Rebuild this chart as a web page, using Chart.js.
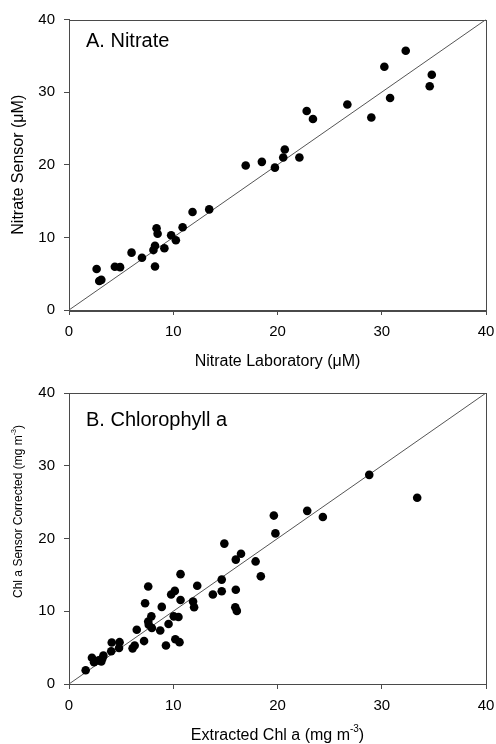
<!DOCTYPE html>
<html>
<head>
<meta charset="utf-8">
<script src="https://cdn.jsdelivr.net/npm/chart.js@4.4.1/dist/chart.umd.min.js"></script>
<style>
  html, body { margin: 0; padding: 0; background: #fff; overflow: hidden; }
  .panel { position: relative; width: 496px; height: 372px; }
  .panel canvas { display: block; }
</style>
</head>
<body>
<div class="panel"><canvas id="nitrateChart"></canvas></div>
<div class="panel"><canvas id="chlChart"></canvas></div>
<script>
/* ── Data ── */
const nitrateLab = [
  2.65, 2.9, 3.1, 4.4, 4.9, 6.0, 7.0, 8.4, 8.5, 8.25, 8.1, 8.25, 9.15, 9.8, 10.25, 10.9, 11.85,
  13.45, 16.95, 18.5, 19.75, 20.55, 20.7, 22.1, 22.8, 23.4, 26.7, 29.0, 30.25, 30.8, 32.3, 34.6, 34.8
];
const nitrateSensor = [
  5.65, 4.0, 4.15, 5.95, 5.9, 7.9, 7.2, 11.25, 10.5, 8.85, 8.25, 6.0, 8.5, 10.3, 9.6, 11.4, 13.5,
  13.85, 19.9, 20.4, 19.6, 21.0, 22.1, 21.0, 27.4, 26.3, 28.3, 26.5, 33.5, 29.2, 35.7, 30.8, 32.4
];

const chlExtracted = [
  1.6, 2.2, 2.4, 2.85, 3.1, 3.3, 3.2, 4.05, 4.1, 4.85, 4.8, 6.1, 6.3, 6.5, 7.2, 7.3, 7.6, 7.6,
  7.65, 7.9, 7.95, 8.75, 8.9, 9.3, 9.55, 9.8, 10.15, 10.05, 10.2, 10.6, 10.5, 10.7, 10.7, 11.9,
  12.0, 12.3, 13.8, 14.65, 14.65, 14.9, 16.0, 16.0, 15.95, 16.1, 16.5, 17.9, 18.4, 19.65, 19.8,
  22.85, 24.35, 28.8, 33.4
];
const chlSensor = [
  1.9, 3.6, 3.0, 3.25, 3.1, 3.9, 3.5, 4.5, 5.7, 5.75, 4.95, 4.9, 5.3, 7.45, 5.9, 11.1, 13.4, 8.6,
  8.15, 9.3, 7.7, 7.35, 10.6, 5.3, 8.25, 12.3, 12.8, 9.3, 6.15, 5.75, 9.2, 15.1, 11.55, 11.35,
  10.55, 13.5, 12.3, 14.35, 12.75, 19.3, 17.1, 12.95, 10.55, 10.05, 17.9, 16.85, 14.8, 23.15, 20.7,
  23.8, 22.95, 28.75, 25.6
];

const axisMin = 0;
const axisMax = 40;
const tickStep = 10;
const oneToOne = [axisMin, axisMax];

const FONT = '"Liberation Sans", Arial, sans-serif';
const FRAME = '#4a4a4a';

/* ── rich text (plain + superscript runs) ── */
function drawRich(ctx, runs, cx, cy, size, angle) {
  const supSize = Math.round(size * 0.62);
  let total = 0;
  runs.forEach(r => {
    ctx.font = `${r.sup ? supSize : size}px ${FONT}`;
    r.w = ctx.measureText(r.t).width;
    total += r.w;
  });
  ctx.save();
  ctx.translate(cx, cy);
  if (angle) ctx.rotate(angle);
  ctx.fillStyle = '#000';
  ctx.textBaseline = 'middle';
  ctx.textAlign = 'left';
  let x = -total / 2;
  runs.forEach(r => {
    ctx.font = `${r.sup ? supSize : size}px ${FONT}`;
    ctx.fillText(r.t, x, r.sup ? -size * 0.42 : 0);
    x += r.w;
  });
  ctx.restore();
}

/* frame round the plot area, axis titles and the panel letter */
const panelDecor = {
  id: 'panelDecor',
  beforeDatasetsDraw(chart, args, o) {
    const { ctx, chartArea: a } = chart;
    ctx.save();
    ctx.strokeStyle = FRAME;
    ctx.lineWidth = 1;
    ctx.strokeRect(Math.round(a.left) + 0.5, Math.round(a.top) + 0.5,
                   Math.round(a.right - a.left), Math.round(a.bottom - a.top));
    ctx.restore();
  },
  afterDraw(chart, args, o) {
    const { ctx, chartArea: a } = chart;
    const midX = (a.left + a.right) / 2;
    const midY = (a.top + a.bottom) / 2;
    drawRich(ctx, o.xTitle, midX, a.bottom + o.xTitleGap, 16, 0);
    drawRich(ctx, o.yTitle, a.left - 50, midY + o.yTitleShift, o.yTitleSize, -Math.PI / 2);
    ctx.save();
    ctx.font = `20px ${FONT}`;
    ctx.fillStyle = '#000';
    ctx.textBaseline = 'middle';
    ctx.fillText(o.label, a.left + 17, a.top + o.labelDrop);
    ctx.restore();
  },
};

function scatterChart(id, xs, ys, cfg) {
  const ctx = document.getElementById(id);
  const axis = (pad, fit) => ({
    type: 'linear', min: axisMin, max: axisMax,
    ticks: { stepSize: tickStep, color: '#000', font: { family: FONT, size: 15 }, padding: pad },
    grid: { drawOnChartArea: false, drawTicks: true, tickLength: 5, color: FRAME },
    border: { color: FRAME },
    afterFit: fit,
  });
  return new Chart(ctx, {
    type: 'scatter',
    data: {
      datasets: [
        {
          data: xs.map((x, i) => ({ x, y: ys[i] })),
          backgroundColor: '#000', borderColor: '#000',
          pointRadius: 4.3, pointHoverRadius: 4.3, borderWidth: 0,
        },
        {
          type: 'line',
          data: oneToOne.map(v => ({ x: v, y: v })),
          borderColor: '#555', borderWidth: 1, pointRadius: 0, fill: false,
        },
      ],
    },
    options: {
      responsive: true, maintainAspectRatio: false, animation: false,
      layout: { padding: { top: cfg.top, right: 10, left: 0, bottom: 0 } },
      plugins: {
        legend: { display: false }, tooltip: { enabled: false },
        panelDecor: cfg.decor,
      },
      scales: {
        // fixed axis sizes; tick label overhang is left to the layout padding
        x: axis(8, s => { s.height = cfg.xAxisHeight; s.paddingLeft = 0; s.paddingRight = 0; }),
        y: axis(9, s => { s.width = 69; s.paddingTop = 0; s.paddingBottom = 0; }),
      },
    },
    plugins: [panelDecor],
  });
}

scatterChart('nitrateChart', nitrateLab, nitrateSensor, {
  top: 19.5, xAxisHeight: 62,
  decor: {
    label: 'A. Nitrate', labelDrop: 22,
    xTitle: [{ t: 'Nitrate Laboratory (\u03bcM)' }], xTitleGap: 52,
    yTitle: [{ t: 'Nitrate Sensor (\u03bcM)' }], yTitleShift: 0, yTitleSize: 16,
  },
});

scatterChart('chlChart', chlExtracted, chlSensor, {
  top: 21, xAxisHeight: 60,
  decor: {
    label: 'B. Chlorophyll a', labelDrop: 27,
    xTitle: [{ t: 'Extracted Chl a (mg m' }, { t: '-3', sup: true }, { t: ')' }], xTitleGap: 52,
    yTitle: [{ t: 'Chl a Sensor Corrected (mg m' }, { t: '-3', sup: true }, { t: ')' }],
    yTitleShift: -27, yTitleSize: 12,
  },
});
</script>
</body>
</html>
